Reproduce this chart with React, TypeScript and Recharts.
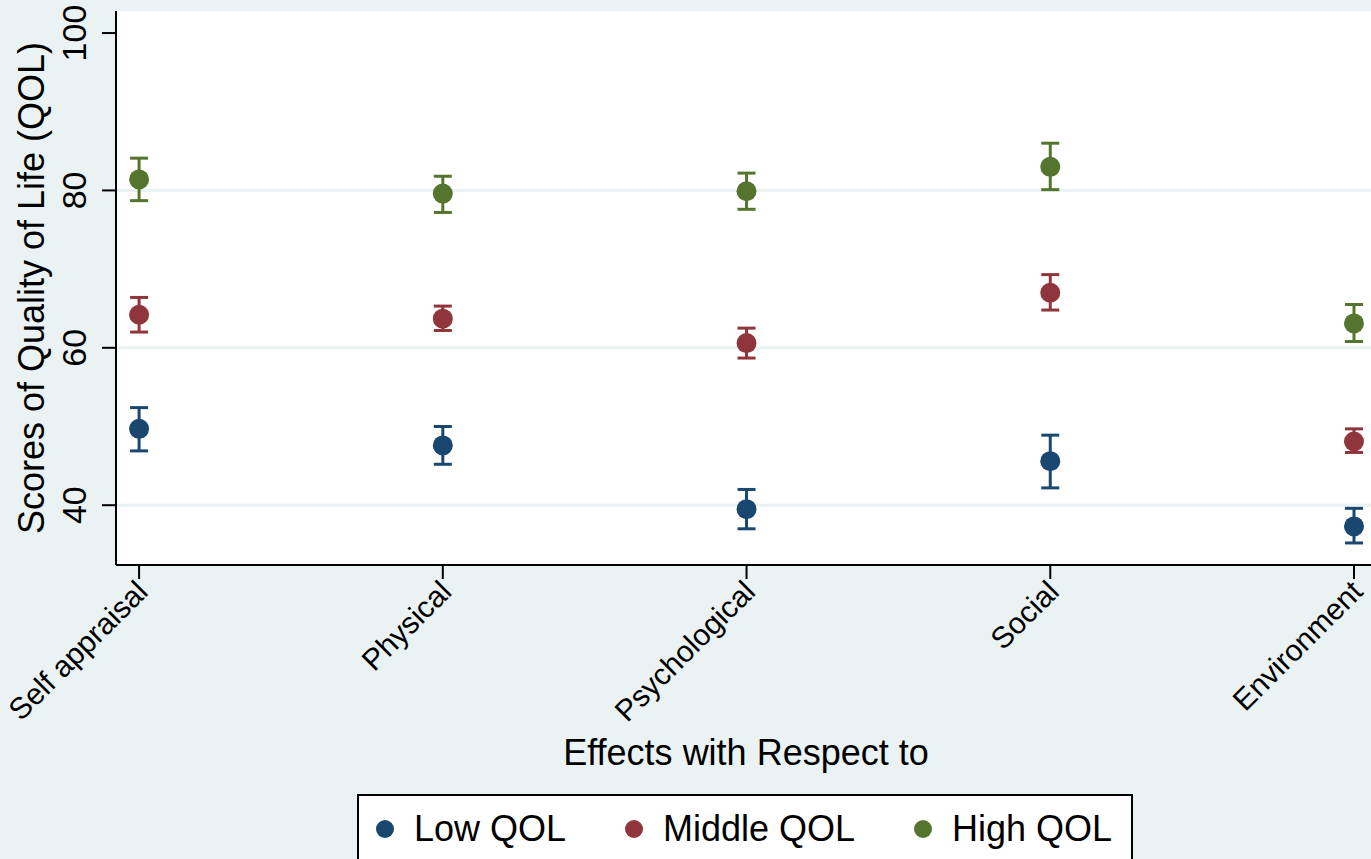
import { ErrorBar, ReferenceArea, ReferenceLine, Scatter, ScatterChart, XAxis, YAxis } from "recharts";

const categories = ["Self appraisal", "Physical", "Psychological", "Social", "Environment"];

const lowMean = [49.7, 47.6, 39.5, 45.6, 37.3];
const lowLo = [46.9, 45.2, 37.0, 42.2, 35.2];
const lowHi = [52.4, 50.0, 42.0, 48.9, 39.6];

const midMean = [64.2, 63.7, 60.6, 67.0, 48.1];
const midLo = [62.0, 62.2, 58.7, 64.8, 46.7];
const midHi = [66.4, 65.3, 62.5, 69.3, 49.7];

const highMean = [81.4, 79.6, 79.9, 83.0, 63.1];
const highLo = [78.7, 77.2, 77.6, 80.1, 60.8];
const highHi = [84.1, 81.8, 82.2, 86.0, 65.5];

const seriesNames = ["Low QOL", "Middle QOL", "High QOL"];
const seriesColors = ["#1a476f", "#90353b", "#55752f"];
const yTicks = [40, 60, 80, 100];
const gridValues = [40, 60, 80];

const xDomain = [-0.076, 4.056];
const yDomain = [32.4, 102.8];
const FONT = '"Liberation Sans", Arial, sans-serif';
const BG = "#eaf2f3";

function build(mean: number[], lo: number[], hi: number[]) {
  return categories.map((c, i) => ({
    x: i,
    name: c,
    y: mean[i],
    err: [mean[i] - lo[i], hi[i] - mean[i]],
  }));
}

const series = [
  build(lowMean, lowLo, lowHi),
  build(midMean, midLo, midHi),
  build(highMean, highLo, highHi),
];

const YTick = ({ x, y, payload }: any) => {
  const bx = x - 14;
  return (
    <text x={bx} y={y} transform={`rotate(-90, ${bx}, ${y})`} textAnchor="middle" fontSize={34} fontFamily={FONT} fill="#000">
      {payload.value}
    </text>
  );
};

const XTick = ({ x, y, payload }: any) => {
  const tx = x + 3;
  const ty = y + 5;
  return (
    <text x={tx} y={ty} transform={`rotate(-45, ${tx}, ${ty})`} textAnchor="end" dominantBaseline="central" fontSize={30} fontFamily={FONT} fill="#000">
      {categories[payload.value]}
    </text>
  );
};

const Dot = ({ cx, cy, fill }: any) => <circle cx={cx} cy={cy} r={10} fill={fill} />;

export default function App() {
  return (
    <div style={{ position: "relative", width: 1371, height: 859, background: BG, fontFamily: FONT, overflow: "hidden" }}>
      <style>{"body{margin:0}"}</style>
      <ScatterChart width={1371} height={859} margin={{ top: 11, right: 0, left: 0, bottom: 0 }}>
        <ReferenceArea x1={xDomain[0]} x2={xDomain[1]} y1={yDomain[0]} y2={yDomain[1]} fill="#ffffff" fillOpacity={1} stroke="none" />
        {gridValues.map((v) => (
          <ReferenceLine key={v} y={v} stroke={BG} strokeWidth={3} />
        ))}
        <XAxis
          type="number"
          dataKey="x"
          domain={xDomain}
          ticks={[0, 1, 2, 3, 4]}
          allowDataOverflow
          height={294}
          tickSize={14}
          stroke="#000"
          strokeWidth={2}
          tick={<XTick />}
          interval={0}
          label={{
            content: () => (
              <text x={746} y={765} textAnchor="middle" fontSize={36} fontFamily={FONT} fill="#000">
                Effects with Respect to
              </text>
            ),
          }}
        />
        <YAxis
          type="number"
          dataKey="y"
          domain={yDomain}
          ticks={yTicks}
          allowDataOverflow
          width={116}
          tickSize={14}
          stroke="#000"
          strokeWidth={2}
          tick={<YTick />}
          interval={0}
          label={{
            content: (p: any) => {
              const vb = p.viewBox || { y: 11, height: 554 };
              const cy = vb.y + vb.height / 2;
              return (
                <text x={44} y={cy} transform={`rotate(-90, 44, ${cy})`} textAnchor="middle" fontSize={36} fontFamily={FONT} fill="#000">
                  Scores of Quality of Life (QOL)
                </text>
              );
            },
          }}
        />
        {series.map((data, i) => (
          <Scatter key={seriesNames[i]} name={seriesNames[i]} data={data} fill={seriesColors[i]} shape={<Dot />} isAnimationActive={false}>
            <ErrorBar dataKey="err" direction="y" width={9} strokeWidth={3} stroke={seriesColors[i]} />
          </Scatter>
        ))}
      </ScatterChart>
      <div
        style={{
          position: "absolute",
          left: 357,
          top: 794,
          width: 776,
          height: 80,
          boxSizing: "border-box",
          background: "#fff",
          border: "2px solid #000",
          fontSize: 36,
          color: "#000",
        }}
      >
        {seriesNames.map((n, i) => (
          <div key={n} style={{ display: "flex", alignItems: "center", position: "absolute", left: [16, 265, 554][i], top: 12 }}>
            <svg width={20} height={20} style={{ marginRight: 19 }}>
              <circle cx={10} cy={10} r={9} fill={seriesColors[i]} />
            </svg>
            <span style={{ lineHeight: "42px" }}>{n}</span>
          </div>
        ))}
      </div>
    </div>
  );
}
